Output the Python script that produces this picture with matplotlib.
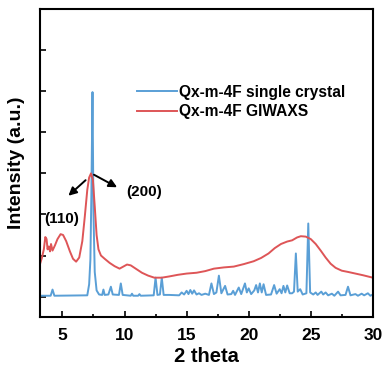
import numpy as np
import matplotlib.pyplot as plt

plt.rcParams['font.family'] = ['Liberation Sans', 'DejaVu Sans']
plt.rcParams['font.weight'] = 'bold'

# single crystal pattern (vertices)
sc_x = [3.2, 4.05, 4.2, 4.35, 7.0, 7.15, 7.25, 7.33, 7.42, 7.5, 7.6, 7.75, 7.95,
        8.2, 8.3, 8.4, 8.7, 8.9, 9.05, 9.55, 9.7, 9.85, 10.5, 10.6, 10.7, 11.1,
        11.2, 11.3, 12.35, 12.5, 12.65, 12.85, 13.0, 13.15, 13.6, 14.4, 14.6,
        14.8, 15.0, 15.15, 15.3, 15.45, 15.6, 15.8, 16.0, 16.2, 16.5, 16.8, 17.0,
        17.2, 17.4, 17.6, 17.8, 18.1, 18.3, 18.6, 18.75, 18.9, 19.2, 19.4, 19.7,
        19.85, 20.0, 20.2, 20.45, 20.6, 20.75, 20.9, 21.05, 21.2, 21.4, 21.8,
        22.05, 22.25, 22.5, 22.65, 22.8, 22.95, 23.1, 23.3, 23.5, 23.65, 23.8,
        23.95, 24.15, 24.35, 24.65, 24.8, 24.95, 25.2, 25.4, 25.55, 25.85, 26.0,
        26.2, 26.4, 26.7, 26.9, 27.2, 27.4, 27.8, 28.0, 28.2, 28.6, 28.8, 29.1,
        29.3, 29.6, 29.8, 30.0]
sc_y = [0.02, 0.02, 0.17, 0.02, 0.03, 0.3, 0.9, 2.5, 4.98, 2.0, 0.6, 0.15, 0.05,
        0.04, 0.17, 0.04, 0.05, 0.24, 0.05, 0.04, 0.32, 0.04, 0.02, 0.07, 0.02, 0.02,
        0.06, 0.02, 0.03, 0.46, 0.04, 0.05, 0.46, 0.04, 0.04, 0.03, 0.1,
        0.05, 0.14, 0.06, 0.16, 0.07, 0.15, 0.05, 0.08, 0.04, 0.07, 0.04, 0.32,
        0.06, 0.1, 0.51, 0.08, 0.26, 0.05, 0.06, 0.14, 0.04, 0.22, 0.06, 0.32,
        0.1, 0.2, 0.06, 0.15, 0.28, 0.1, 0.32, 0.1, 0.3, 0.04, 0.05,
        0.28, 0.07, 0.18, 0.08, 0.26, 0.1, 0.27, 0.08, 0.08, 0.12, 1.05,
        0.12, 0.18, 0.05, 0.08, 1.78, 0.1, 0.05, 0.1, 0.04, 0.12, 0.05,
        0.1, 0.03, 0.07, 0.02, 0.12, 0.03, 0.04, 0.24, 0.03, 0.06, 0.02, 0.07,
        0.03, 0.08, 0.02, 0.05]

# GIWAXS line cut
gi_x = [3.2, 3.35, 3.5, 3.62, 3.72, 3.8, 3.9, 4.0, 4.08, 4.2, 4.4, 4.6, 4.85, 5.05,
        5.3, 5.6, 5.85, 6.1, 6.35, 6.6, 6.8, 7.0, 7.15, 7.3, 7.45, 7.6, 7.75, 7.9,
        8.1, 8.4, 8.8, 9.2, 9.6, 9.9, 10.2, 10.5, 10.9, 11.4, 11.9, 12.4, 13.0,
        13.6, 14.3, 15.0, 15.8, 16.5, 17.2, 18.0, 18.8, 19.6, 20.4, 21.0, 21.6,
        22.1, 22.6, 23.1, 23.5, 23.9, 24.2, 24.6, 25.0, 25.4, 25.8, 26.2, 26.6,
        27.0, 27.5, 28.0, 28.6, 29.2, 30.0]
gi_y = [0.80, 0.95, 1.15, 1.45, 1.40, 1.15, 1.22, 1.10, 1.28, 1.12, 1.25, 1.40, 1.52, 1.50,
        1.35, 1.10, 0.92, 0.85, 0.95, 1.35, 1.95, 2.6, 2.9, 3.0, 2.85, 2.2, 1.5, 1.15,
        1.0, 0.92, 0.82, 0.74, 0.68, 0.73, 0.78, 0.76, 0.68, 0.58, 0.51, 0.46, 0.46,
        0.49, 0.53, 0.56, 0.58, 0.62, 0.68, 0.71, 0.73, 0.79, 0.86, 0.94, 1.05,
        1.18, 1.28, 1.34, 1.37, 1.44, 1.47, 1.46, 1.40, 1.28, 1.12, 0.95, 0.80,
        0.70, 0.63, 0.60, 0.56, 0.52, 0.46]

labels = ['Qx-m-4F single crystal', 'Qx-m-4F GIWAXS']
x_ticks = [5, 10, 15, 20, 25, 30]

fig = plt.figure(figsize=(3.82, 3.67), dpi=100)
ax = fig.add_axes([0.105, 0.136, 0.871, 0.839])

ax.plot(sc_x, sc_y, color='#5a9fd6', lw=1.4, label=labels[0])
ax.plot(gi_x, gi_y, color='#de5557', lw=1.4, label=labels[1])

ax.set_xlim(3.2, 30)
ax.set_ylim(-0.5, 7.0)
ax.set_xticks(x_ticks)
ax.set_xticks(np.arange(7.5, 30, 5), minor=True)
ax.set_yticks(range(0, 7))
ax.set_yticklabels([])
ax.tick_params(direction='in', length=4, width=1.2, labelsize=12.5, pad=8)
ax.tick_params(which='minor', direction='in', length=2.5, width=1.2)
for s in ax.spines.values():
    s.set_linewidth(1.5)

ax.set_xlabel('2 theta', fontsize=14.5, fontweight='bold', labelpad=3)
ax.set_ylabel('Intensity (a.u.)', fontsize=14, fontweight='bold', labelpad=3)

ax.annotate('', xy=(5.31, 2.41), xytext=(7.03, 2.88),
            arrowprops=dict(arrowstyle='-|>', color='black', lw=1.4, mutation_scale=12))
ax.annotate('', xy=(9.6, 2.63), xytext=(7.34, 3.0),
            arrowprops=dict(arrowstyle='-|>', color='black', lw=1.4, mutation_scale=12))
ax.text(4.92, 1.9, '(110)', fontsize=11, fontweight='bold', ha='center', va='center')
ax.text(11.56, 2.54, '(200)', fontsize=11, fontweight='bold', ha='center', va='center')

ax.legend(loc='upper left', bbox_to_anchor=(0.29, 0.755), frameon=False,
          handlelength=2.6, handletextpad=0.15, labelspacing=0.3,
          borderpad=0, borderaxespad=0, prop={'weight': 'bold', 'size': 11.2})

fig.savefig('out.png', dpi=100)
